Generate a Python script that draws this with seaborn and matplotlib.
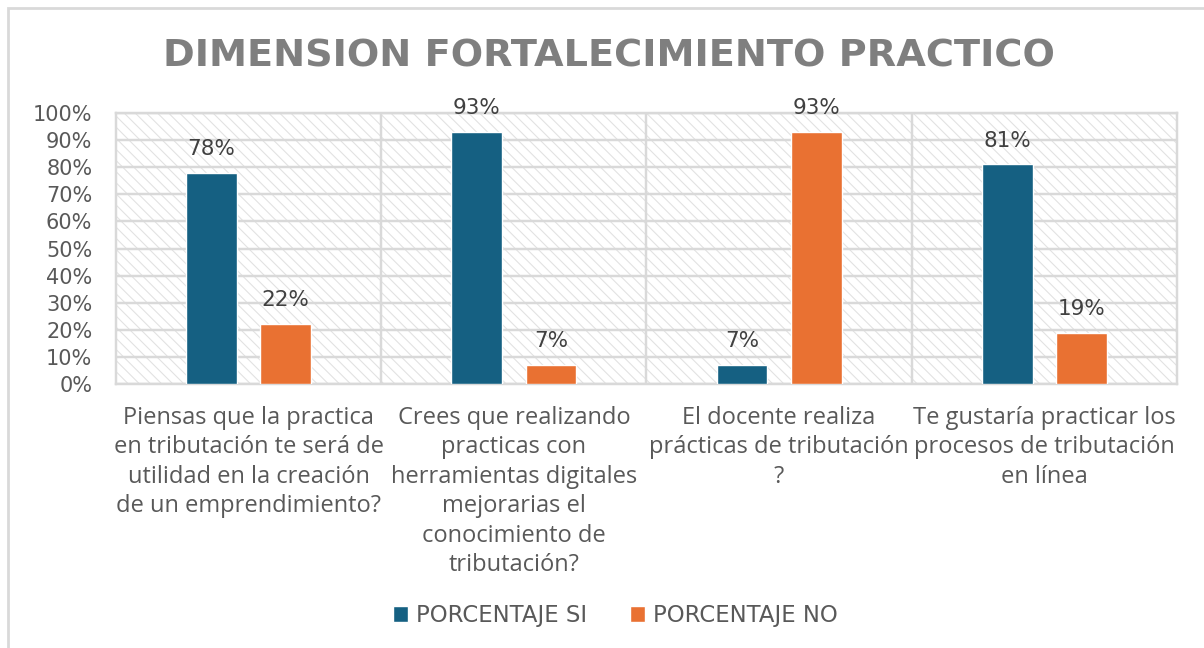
import numpy as np
import pandas as pd
import matplotlib
matplotlib.use("Agg")
import matplotlib.pyplot as plt
import seaborn as sns
from matplotlib.patches import Rectangle
from matplotlib.ticker import PercentFormatter

# data
preguntas = [
    "Piensas que la practica\nen tributación te será de\nutilidad en la creación\nde un emprendimiento?",
    "Crees que realizando\npracticas con\nherramientas digitales\nmejorarias el\nconocimiento de\ntributación?",
    "El docente realiza\nprácticas de tributación\n?",
    "Te gustaría practicar los\nprocesos de tributación\nen línea",
]
series = ["PORCENTAJE SI", "PORCENTAJE NO"]
pct_si = [0.78, 0.93, 0.07, 0.81]
pct_no = [0.22, 0.07, 0.93, 0.19]
yticks = [0, 0.1, 0.2, 0.3, 0.4, 0.5, 0.6, 0.7, 0.8, 0.9, 1.0]

colores = ["#156082", "#E97132"]
gris_txt = "#595959"
gris_lin = "#d9d9d9"

df = pd.DataFrame({
    "pregunta": preguntas * 2,
    "serie": [series[0]] * 4 + [series[1]] * 4,
    "valor": pct_si + pct_no,
})

sns.set_theme(style="white")
plt.rcParams["font.family"] = ["DejaVu Sans"]
plt.rcParams["hatch.linewidth"] = 0.8

fig = plt.figure(figsize=(12.04, 6.48), dpi=100)
ax = fig.add_axes([0.0963, 0.4074, 0.8813, 0.4182])

# hatched plot area background
ax.add_patch(Rectangle((0, 0), 1, 1, transform=ax.transAxes, facecolor="white",
                       edgecolor="#e2e2e2", hatch="\\\\\\", linewidth=0, zorder=0.1))

sns.barplot(data=df, x="pregunta", y="valor", hue="serie", palette=colores,
            saturation=1, width=0.56, gap=0.32, ax=ax, zorder=3)

ax.set_ylim(0, 1.0)
ax.set_xlim(-0.5, 3.5)
ax.set_yticks(yticks)
ax.yaxis.set_major_formatter(PercentFormatter(1.0, decimals=0))
ax.set_xlabel("")
ax.set_ylabel("")
ax.tick_params(axis="y", length=0, labelsize=15, labelcolor=gris_txt, pad=17)
ax.tick_params(axis="x", length=0, pad=15.5)
ax.set_xticks(range(len(preguntas)))
ax.set_xticklabels(preguntas, fontsize=17, color=gris_txt, linespacing=1.31,
                   family=["Open Sans", "DejaVu Sans"], va="top")

ax.set_axisbelow(True)
ax.grid(axis="y", color=gris_lin, linewidth=1.75, zorder=0.5)
for xb in [0.5, 1.5, 2.5]:
    ax.axvline(xb, color=gris_lin, linewidth=1.75, zorder=0.5)
for s in ax.spines.values():
    s.set_color(gris_lin)
    s.set_linewidth(1.75)

for cont in ax.containers:
    ax.bar_label(cont, labels=[f"{v*100:.0f}%" for v in cont.datavalues],
                 padding=10, fontsize=15.5, color="#404040")

ax.get_legend().remove()
handles, labels = ax.get_legend_handles_labels()
fig.legend(handles, labels, loc="center", bbox_to_anchor=(0.511, 0.05), ncol=2,
           frameon=False, fontsize=16.4, labelcolor=gris_txt, handlelength=0.65,
           handleheight=0.65, handletextpad=0.35, columnspacing=1.9)

fig.suptitle("DIMENSION FORTALECIMIENTO PRACTICO", x=0.506, y=0.94,
             fontsize=27.5, fontweight="bold", color="#7f7f7f")

# outer chart frame
fig.add_artist(Rectangle((8 / 1204, -0.1), 1.2, 1 - 8 / 648 + 0.1,
                         transform=fig.transFigure, fill=False,
                         edgecolor=gris_lin, linewidth=2))

fig.savefig("out.png", dpi=100)
